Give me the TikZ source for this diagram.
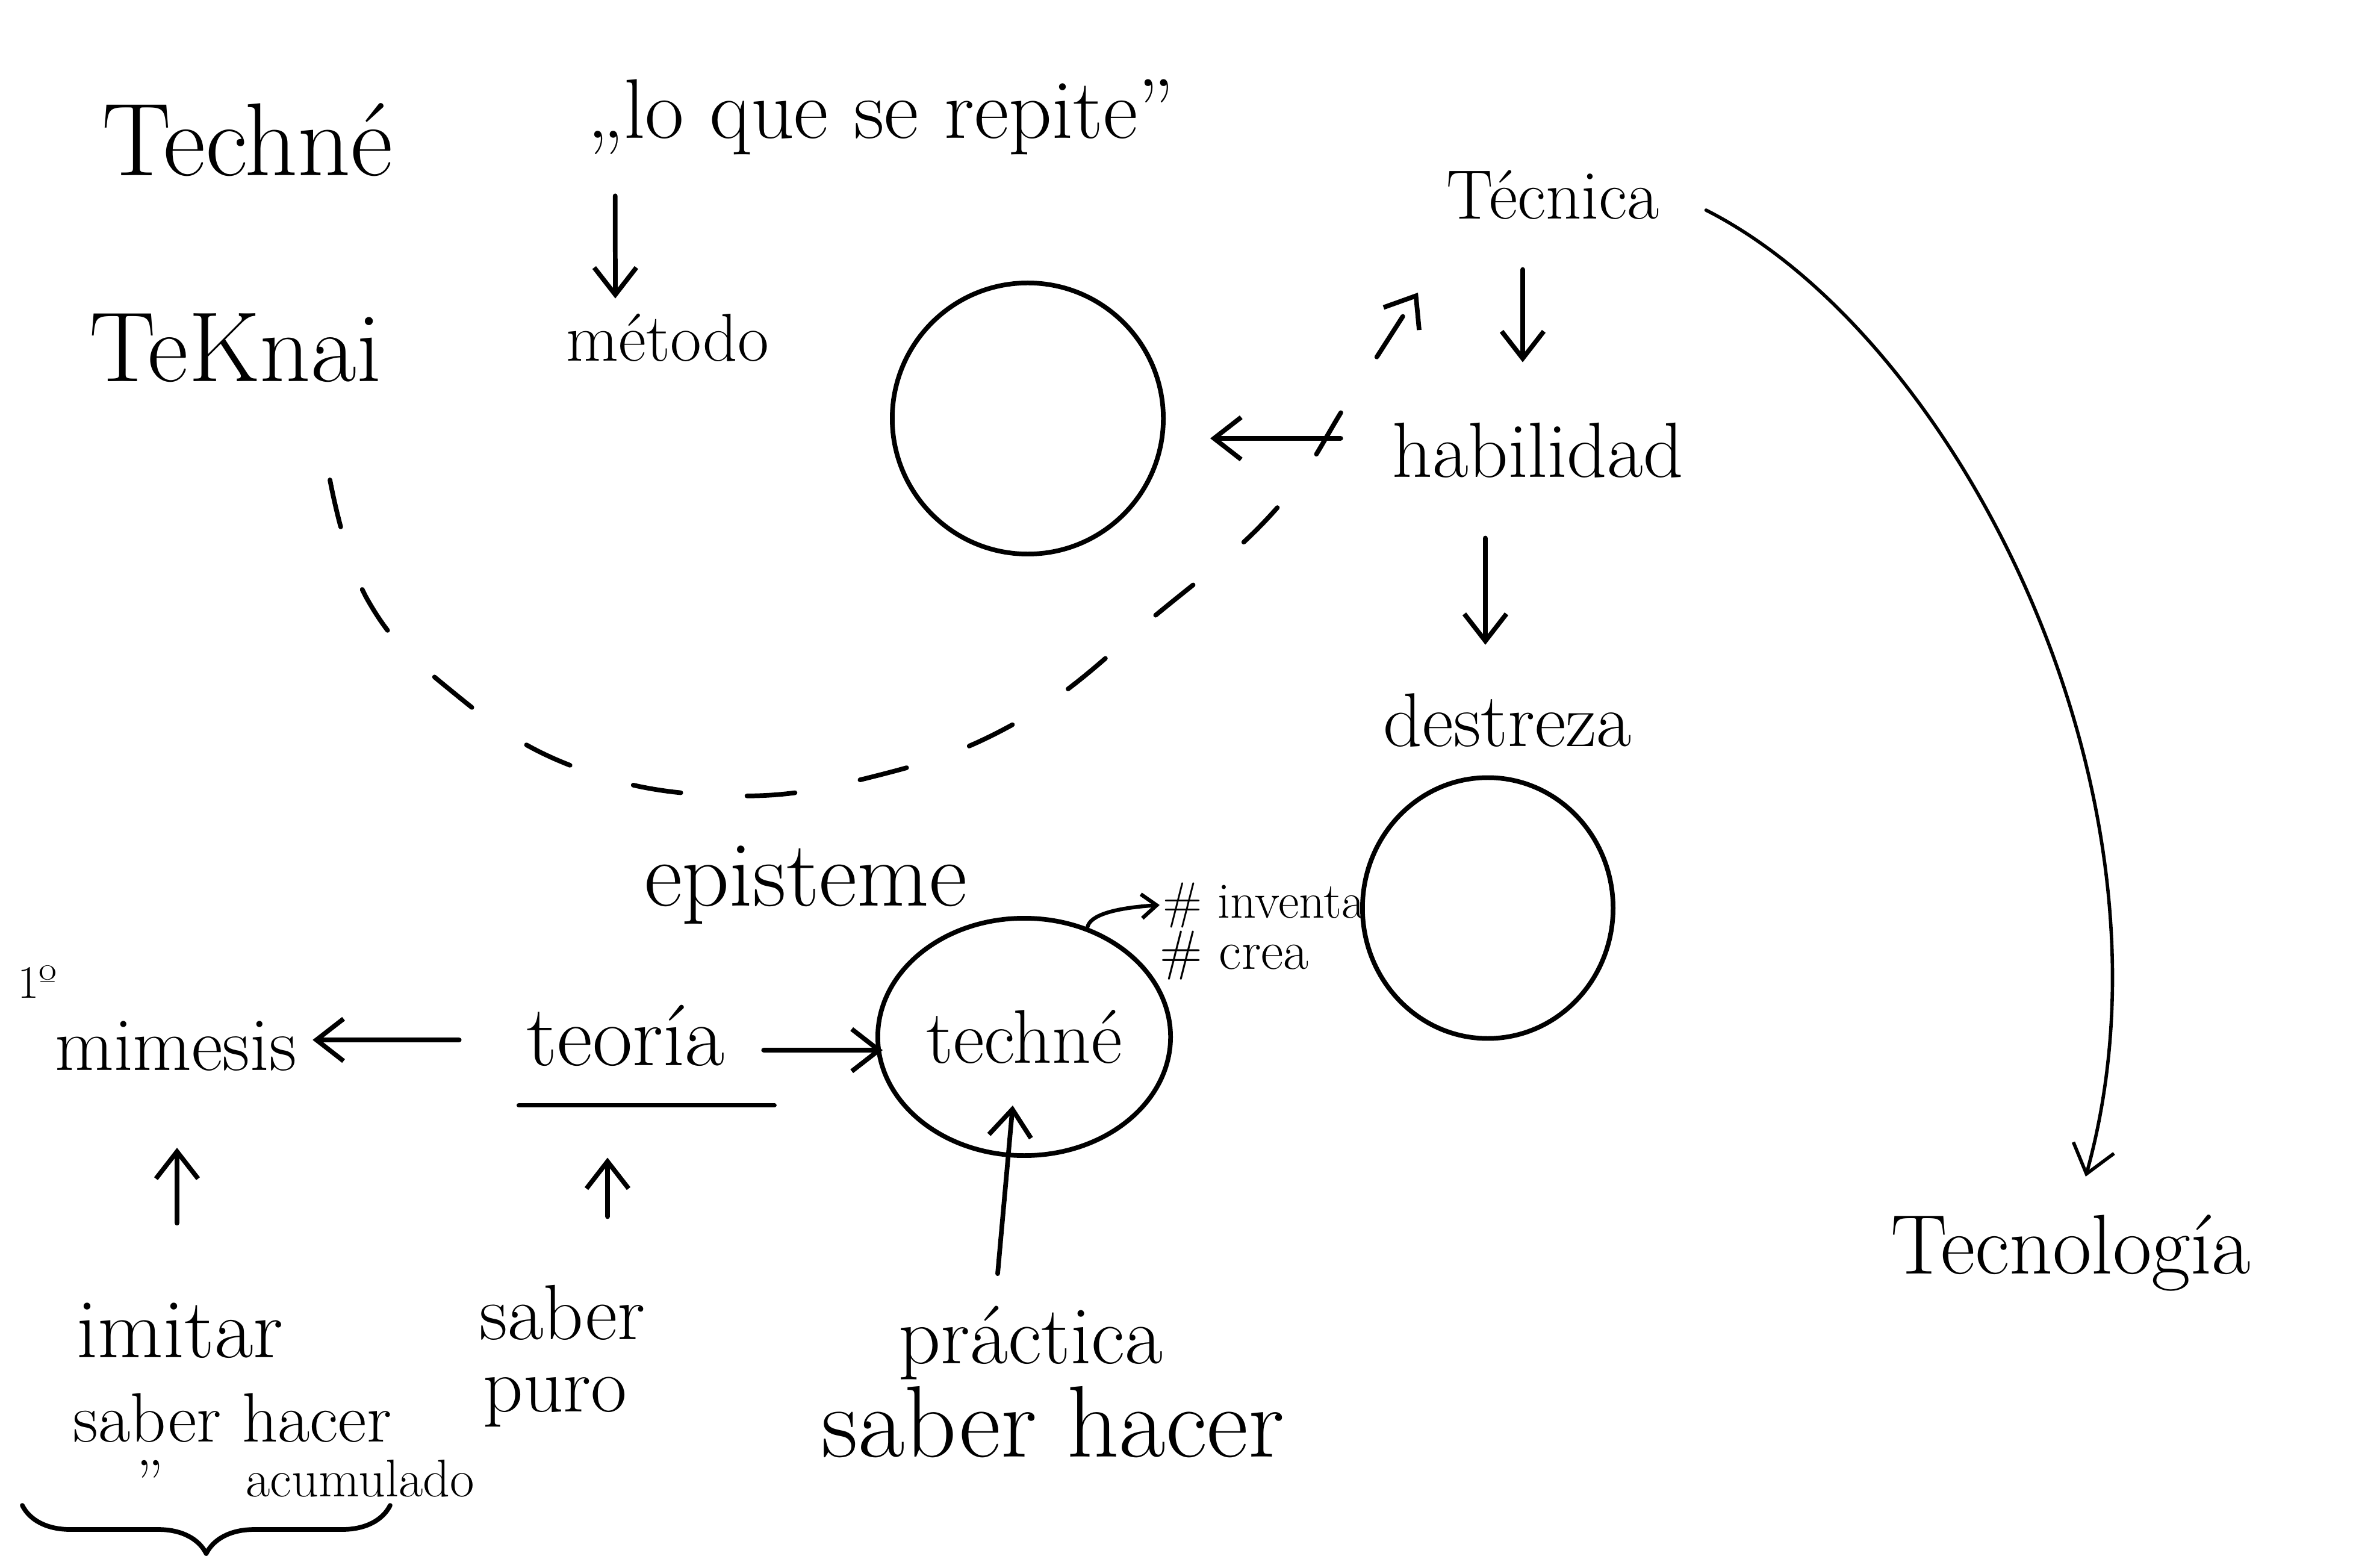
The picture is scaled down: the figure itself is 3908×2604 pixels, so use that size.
\documentclass[tikz,border=0pt]{standalone}
\usepackage{fontspec}
\usetikzlibrary{arrows.meta,shapes.geometric,decorations.pathreplacing}
\begin{document}
\begin{tikzpicture}[x=0.01cm,y=-0.01cm,
  txt/.style={inner sep=0pt, font=\fontsize{#1}{#1}\selectfont},
  pen/.style={line width=2.2pt, line cap=round, line join=round},
  arr/.style={pen, -{Straight Barb[length=4.5mm,width=7mm,line width=2.2pt]}},
  smallarr/.style={pen, line width=1.8pt, -{Straight Barb[length=2.5mm,width=4mm,line width=1.8pt]}},
  thinarr/.style={pen, line width=1.6pt, -{Straight Barb[length=4.5mm,width=7mm,line width=1.6pt]}},
  ring/.style={draw, pen, inner sep=0pt},
]
\useasboundingbox (0,0) rectangle (3908,2604);
\fill[white] (0,0) rectangle (3908,2604);

% upper left
\node[txt=49] (techne) at (411,232) {Techné};
\node[txt=47] (teknai) at (391,578) {TeKnai};
\node[txt=40] (loque) at (1463,194) {„lo que se repite”};
\node[txt=32] (metodo) at (1109,561) {método};

% right column
\node[txt=33] (tecnica) at (2579,324) {Técnica};
\node[txt=37] (habilidad) at (2554,748) {habilidad};
\node[txt=36] (destreza) at (2504,1196) {destreza};
\node[txt=40] (tecnologia) at (3439,2081) {Tecnología};

% circles
\node[ring, circle, minimum size=4.5cm] (c1) at (1707,695) {};
\node[ring, ellipse, minimum width=4.16cm, minimum height=4.33cm] (c2) at (2471,1508) {};
\node[ring, ellipse, minimum width=4.86cm, minimum height=3.94cm, txt=36] (tc) at (1701,1722) {techné};

% middle
\node[txt=44] (episteme) at (1338,1470) {episteme};
\node[txt=24, anchor=west] (inventa) at (1931,1503) {\# inventa};
\node[txt=26, anchor=west] (crea) at (1926,1587) {\# crea};

% lower left
\node[txt=22] (uno) at (62,1630) {1º};
\node[txt=36] (mimesis) at (292,1737) {mimesis};
\node[txt=41] (teoria) at (1039,1720) {teoría};
\draw[pen] (teoria.south west) ++(-0.12cm,-0.64cm) coordinate (ul1) -- ++(4.24cm,0);
\node[txt=40] (imitar) at (299,2210) {imitar};
\node[txt=33] (saberhacer) at (386,2355) {saber hacer};
\node[txt=30] (ditto) at (249,2462) {\addfontfeatures{Ligatures=TeXOff}"};
\node[txt=25] (acumulado) at (598,2455) {acumulado};
\node[txt=37] (saber) at (934,2180) {saber};
\node[txt=37] (puro) at (922,2328) {puro};
\node[txt=39] (practica) at (1712,2230) {práctica};
\node[txt=48] (saberhacer2) at (1749,2362) {saber hacer};

% brace
\draw[pen, decorate, decoration={brace, amplitude=0.8cm}] (648,2500) -- (37,2500);

% arrows
\draw[arr] ([xshift=-4.41cm,yshift=-0.68cm]loque.south) -- ([xshift=-0.87cm,yshift=0.25cm]metodo.north);
\draw[arr] ([xshift=-0.5cm,yshift=-0.82cm]tecnica.south) -- ([xshift=-0.25cm,yshift=1.0cm]habilidad.north);
\draw[arr] ([xshift=-0.87cm,yshift=-0.99cm]habilidad.south) -- ([xshift=-0.37cm,yshift=0.8cm]destreza.north);
\draw[arr] ([xshift=-0.85cm,yshift=0.2cm]habilidad.west) -- ([xshift=0.74cm,yshift=-0.33cm]c1.east);
\draw[thinarr] ([xshift=0.77cm,yshift=-0.25cm]tecnica.east) .. controls (3250,560) and (3640,1320) .. ([xshift=0.25cm,yshift=0.63cm]tecnologia.north);

\draw[arr] ([xshift=-1.11cm,yshift=-0.07cm]teoria.west) -- ([xshift=0.26cm,yshift=0.1cm]mimesis.east);
\draw[arr] ([xshift=0.64cm,yshift=-0.24cm]teoria.east) -- ([xshift=0.12cm,yshift=-0.22cm]tc.west);
\draw[arr] ([xshift=-0.05cm,yshift=1.32cm]imitar.north) -- ([xshift=0.02cm,yshift=-1.27cm]mimesis.south);
\draw[arr] ([xshift=0.75cm,yshift=1.13cm]saber.north) -- ([xshift=-0.3cm,yshift=-1.51cm]teoria.south);
\draw[arr] ([xshift=-0.55cm,yshift=0.53cm]practica.north) -- ([xshift=-0.19cm,yshift=0.87cm]tc.south);
\draw[smallarr] (tc.60) .. controls (1810,1520) and (1850,1508) .. ([xshift=-0.05cm]inventa.west);

% dashed arc
\coordinate (ds) at (548,797);
\coordinate (de) at (2355,486);
\draw[pen, dash pattern=on 0.8cm off 1.1cm, -{Straight Barb[length=4.5mm,width=7mm,line width=2.2pt]}]
  plot[smooth, tension=0.7] coordinates {(ds) (611,997) (748,1146) (947,1271) (1196,1321) (1445,1291) (1695,1196) (1919,1022) (2118,847) (2243,660) (de)};
\end{tikzpicture}
\end{document}
